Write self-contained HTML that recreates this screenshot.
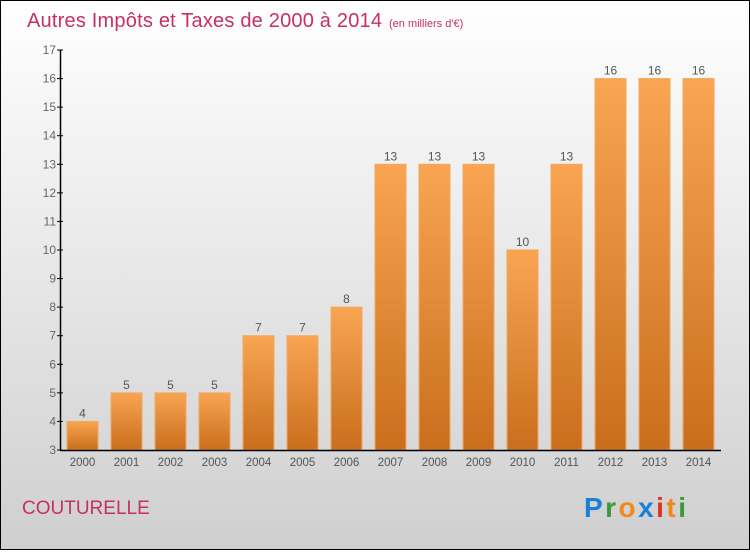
<!DOCTYPE html>
<html><head><meta charset="utf-8"><style>
body{margin:0;width:750px;height:550px;overflow:hidden;font-family:"Liberation Sans",sans-serif}
</style></head><body>
<svg width="750" height="550" xmlns="http://www.w3.org/2000/svg">
<defs>
<linearGradient id="bg" x1="0" y1="0" x2="0" y2="1"><stop offset="0" stop-color="#ffffff"/><stop offset="1" stop-color="#cfcfcf"/></linearGradient>
<linearGradient id="bar" x1="0" y1="0" x2="0" y2="1"><stop offset="0" stop-color="#f9a552"/><stop offset="1" stop-color="#c96e1c"/></linearGradient>
</defs>
<rect x="0.5" y="0.5" width="749" height="549" fill="url(#bg)" stroke="#000"/>
<text x="27" y="27" font-size="20" fill="#c8305e" textLength="355">Autres Impôts et Taxes de 2000 à 2014</text>
<text x="389" y="27" font-size="11" fill="#c8305e">(en milliers d'€)</text>
<g id="plot"></g>
<text x="22" y="514" font-size="19" fill="#c8305e">COUTURELLE</text>
<text x="584" y="517" font-size="28" font-weight="bold" textLength="102"><tspan fill="#1a7fd6">P</tspan><tspan fill="#3a9a3a">r</tspan><tspan fill="#f08a1c">o</tspan><tspan fill="#1a7fd6">x</tspan><tspan fill="#e03020">i</tspan><tspan fill="#f08a1c">t</tspan><tspan fill="#3a9a3a">i</tspan></text>
</svg>
<script>
const years=["2000","2001","2002","2003","2004","2005","2006","2007","2008","2009","2010","2011","2012","2013","2014"];
const values=[4,5,5,5,7,7,8,13,13,13,10,13,16,16,16];
const yTicks=[3,4,5,6,7,8,9,10,11,12,13,14,15,16,17];
const NS="http://www.w3.org/2000/svg";
const g=document.getElementById('plot');
const y0=450,yTop=50,vMin=3,vMax=17;
function ys(v){return y0-(v-vMin)*(y0-yTop)/(vMax-vMin);}
function xs(i){return 82.5+i*44;}
function mk(t,a){const e=document.createElementNS(NS,t);for(const k in a)e.setAttribute(k,a[k]);g.appendChild(e);return e;}
years.forEach((yr,i)=>{
 const r=mk('rect',{x:xs(i)-15.5,y:ys(values[i]),width:31,height:y0-ys(values[i]),fill:'url(#bar)',stroke:'#f2a860','stroke-width':1});
 
 
 const t=mk('text',{x:xs(i),y:ys(values[i])-4,'font-size':12,fill:'#555','text-anchor':'middle'});t.textContent=values[i];
 
 
 const l=mk('text',{x:xs(i),y:466,'font-size':11.5,fill:'#555','text-anchor':'middle'});l.textContent=yr;
 
 
});
yTicks.forEach(v=>{
 const tk=mk('line',{x1:57,x2:63,y1:ys(v),y2:ys(v),stroke:'#000'});
 
 
 const t=mk('text',{x:56,y:ys(v)+4,'font-size':12,fill:'#666','text-anchor':'end'});t.textContent=v;
 
 
});
const ya=mk('line',{x1:60.5,x2:60.5,y1:50,y2:450.5,stroke:'#000','stroke-width':1.5});


const xa=mk('line',{x1:60,x2:721,y1:450.5,y2:450.5,stroke:'#000','stroke-width':1.5});


</script>
</body></html>
